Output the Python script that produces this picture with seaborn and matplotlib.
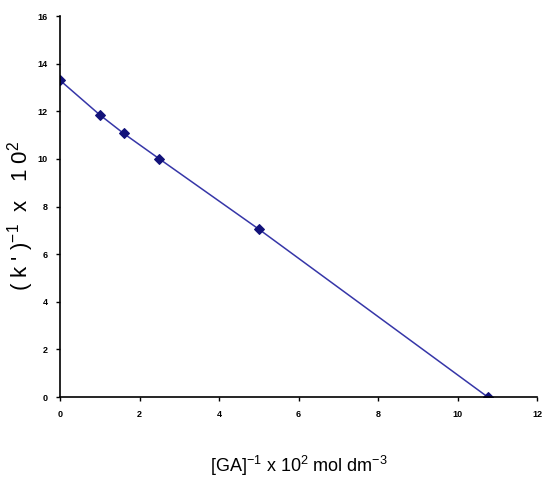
import matplotlib
matplotlib.use("Agg")
import matplotlib.pyplot as plt
import seaborn as sns
import pandas as pd

# values
ga_inv = [0.0, 1.0, 1.6, 2.5, 5.0, 10.76]
k_inv = [13.3, 11.85, 11.07, 10.0, 7.05, 0.0]
x_ticks = [0, 2, 4, 6, 8, 10, 12]
y_ticks = [0, 2, 4, 6, 8, 10, 12, 14, 16]

df = pd.DataFrame({"ga_inv": ga_inv, "k_inv": k_inv})

sns.set_style("ticks")
plt.rcParams["font.family"] = ["Liberation Sans", "DejaVu Sans"]
plt.rcParams["mathtext.fontset"] = "custom"
plt.rcParams["mathtext.rm"] = "Liberation Sans"
plt.rcParams["mathtext.it"] = "Liberation Sans"
plt.rcParams["mathtext.default"] = "regular"
plt.rcParams["text.color"] = "black"
plt.rcParams["axes.labelcolor"] = "black"

fig = plt.figure(figsize=(5.43, 4.91), dpi=100)
ax = fig.add_axes([0.1105, 0.1914, 0.8785, 0.776])

sns.lineplot(data=df, x="ga_inv", y="k_inv", ax=ax, color="#3636a8", linewidth=1.1,
             marker="D", markersize=5.5, markerfacecolor="#12127a",
             markeredgecolor="#12127a")

ax.set_xlim(0, 12)
ax.set_ylim(0, 16)
ax.set_xticks(x_ticks)
ax.set_yticks(y_ticks)
ax.tick_params(axis="both", direction="out", length=3, width=1, colors="black",
               labelsize=6.5, pad=6)
for lab in ax.get_xticklabels() + ax.get_yticklabels():
    lab.set_fontweight("bold")

for side in ["left", "bottom"]:
    ax.spines[side].set_color("black")
    ax.spines[side].set_linewidth(1.2)
sns.despine(ax=ax)

ax.set_xlabel("[GA]$^{-1}$ x 10$^{2}$ mol dm$^{-3}$", fontsize=13)
ax.xaxis.set_label_coords(0.5, -0.15)
ax.set_ylabel("( k ' )$^{-1}$  x   1 0$^{2}$", fontsize=16)
ax.yaxis.set_label_coords(-0.05, 0.475)

fig.savefig("out.png", dpi=100)
